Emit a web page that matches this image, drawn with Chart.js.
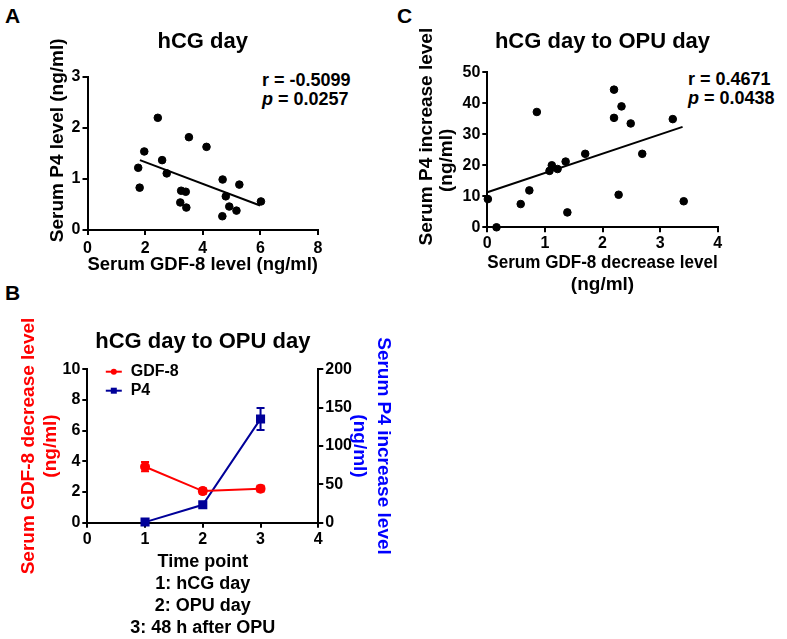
<!DOCTYPE html>
<html lang="en">
<head>
    <meta charset="UTF-8">
    <title>GDF-8 and P4</title>
    <script src="https://cdn.jsdelivr.net/npm/chart.js@4.4.0/dist/chart.umd.min.js"></script>
    <style>
        body { margin: 0; background: #fff; width: 787px; height: 639px; position: relative; overflow: hidden;
               font-family: 'Liberation Sans', Arial, sans-serif; font-weight: bold; }
        canvas, .txt { position: absolute; }
        .letter { font-size: 21px; line-height: 21px; }
        .stats { font-size: 18px; line-height: 19px; white-space: nowrap; }
    </style>
</head>
<body>
<div class="txt letter" style="left:5px; top:5px;">A</div>
<div class="txt letter" style="left:5px; top:282px;">B</div>
<div class="txt letter" style="left:397px; top:5px;">C</div>
<div class="txt stats" style="left:262px; top:71px;">r = -0.5099<br><i>p</i> = 0.0257</div>
<div class="txt stats" style="left:688px; top:70px;">r = 0.4671<br><i>p</i> = 0.0438</div>

<canvas id="chartA" width="400" height="290" style="left:0; top:0;"></canvas>
<canvas id="chartB" width="400" height="339" style="left:0; top:300px;"></canvas>
<canvas id="chartC" width="387" height="300" style="left:400px; top:0;"></canvas>

<script>
    // panel A: hCG day
    const aGdf8 = [1.76, 1.81, 1.97, 2.44, 2.59, 2.75, 3.25, 3.41, 3.22, 3.43, 3.52, 4.13, 4.69, 5.27, 4.80, 4.68, 4.92, 5.17, 6.02];
    const aP4   = [1.22, 0.83, 1.54, 2.20, 1.37, 1.11, 0.77, 0.75, 0.54, 0.44, 1.82, 1.63, 0.99, 0.89, 0.66, 0.27, 0.46, 0.38, 0.56];
    const aFitX = [1.82, 5.99];
    const aFitY = [1.37, 0.48];

    // panel C: hCG day to OPU day (changes)
    const cGdf8 = [0.01, 0.16, 0.58, 0.73, 0.86, 1.08, 1.12, 1.22, 1.36, 1.39, 1.70, 2.20, 2.20, 2.33, 2.28, 2.49, 2.69, 3.22, 3.41];
    const cP4   = [9.1, 0, 7.5, 11.9, 37.2, 18.2, 20.0, 18.8, 21.2, 4.8, 23.7, 44.4, 35.3, 39.0, 10.5, 33.5, 23.7, 34.9, 8.4];
    const cFitX = [0, 3.39];
    const cFitY = [11.3, 32.4];

    // panel B: time course, mean and error
    const timePoints = [1, 2, 3];
    const gdfMean = [3.65, 2.06, 2.22];
    const gdfErr  = [0.30, 0.18, 0.19];
    const p4Mean  = [0.8, 23.3, 135.3];
    const p4Err   = [1.5, 3.3, 14.4];

    const FONT = "'Liberation Sans', Arial, sans-serif";
    Chart.defaults.font.family = FONT;
    Chart.defaults.font.weight = 'bold';
    Chart.defaults.color = '#000';

    const pts = (xs, ys) => xs.map((x, i) => ({ x: x, y: ys[i] }));

    function axis(min, max, step, extra, tickPad) {
        return Object.assign({
            type: 'linear', min: min, max: max,
            ticks: { stepSize: step, padding: tickPad || 2, font: { size: 16, weight: 'bold' }, color: '#000' },
            grid: { drawOnChartArea: false, drawTicks: true, tickLength: 5, color: '#000', lineWidth: 2 },
            border: { color: '#000', width: 2 }
        }, extra);
    }

    function axisTitle(text, size, lh, pad, color) {
        return { display: true, text: text, color: color || '#000', padding: pad,
                 font: { size: size, weight: 'bold', lineHeight: lh } };
    }

    function mainTitle(text, top, bottom) {
        return { display: true, text: text, fullSize: false, color: '#000',
                 font: { size: 22, weight: 'bold', lineHeight: 1.2 }, padding: { top: top, bottom: bottom } };
    }

    // error bars for datasets that carry an `errors` array
    const errorBars = {
        id: 'errorBars',
        afterDatasetsDraw(chart) {
            const ctx = chart.ctx;
            chart.data.datasets.forEach((ds, i) => {
                if (!ds.errors) return;
                const meta = chart.getDatasetMeta(i);
                const scale = chart.scales[meta.yAxisID];
                ctx.save();
                ctx.strokeStyle = ds.borderColor;
                ctx.lineWidth = 2;
                meta.data.forEach((el, j) => {
                    const v = ds.data[j].y, e = ds.errors[j];
                    const y1 = scale.getPixelForValue(v + e), y2 = scale.getPixelForValue(v - e);
                    ctx.beginPath();
                    ctx.moveTo(el.x, y1); ctx.lineTo(el.x, y2);
                    ctx.moveTo(el.x - 4, y1); ctx.lineTo(el.x + 4, y1);
                    ctx.moveTo(el.x - 4, y2); ctx.lineTo(el.x + 4, y2);
                    ctx.stroke();
                });
                ctx.restore();
            });
        }
    };

    // legend drawn inside the plot area, line + marker style
    const innerLegend = {
        id: 'innerLegend',
        afterDraw(chart) {
            const ctx = chart.ctx, area = chart.chartArea;
            ctx.save();
            chart.data.datasets.forEach((ds, i) => {
                const y = area.top + 2.4 + i * 19;
                const x0 = area.left + 18.5, x1 = area.left + 34.5, xm = (x0 + x1) / 2;
                ctx.strokeStyle = ds.borderColor;
                ctx.fillStyle = ds.borderColor;
                ctx.lineWidth = 2;
                ctx.beginPath(); ctx.moveTo(x0, y); ctx.lineTo(x1, y); ctx.stroke();
                if (ds.pointStyle === 'rect') {
                    ctx.fillRect(xm - 3, y - 3, 6, 6);
                } else {
                    ctx.beginPath(); ctx.arc(xm, y, 3, 0, Math.PI * 2); ctx.fill();
                }
                ctx.fillStyle = '#000';
                ctx.font = 'bold 16px ' + FONT;
                ctx.textBaseline = 'middle';
                ctx.fillText(ds.label, area.left + 43.4, y);
            });
            ctx.restore();
        }
    };

    function scatterOpts(title, titlePad, xTitle, yTitle, xs, ys) {
        return {
            responsive: false, animation: false,
            layout: { padding: { left: 0, right: xs.padRight, top: 0, bottom: 0 } },
            plugins: { legend: { display: false }, tooltip: { enabled: false }, title: mainTitle(title, titlePad[0], titlePad[1]) },
            scales: {
                x: axis(xs.min, xs.max, xs.step, { title: xTitle, afterFit: s => { s.height = xs.height; } }, xs.tickPad),
                y: axis(ys.min, ys.max, ys.step, { title: yTitle, afterFit: s => { s.width = ys.width; } })
            }
        };
    }

    // the y titles sit a little above the plot centre in the original, leading spaces nudge them up
    new Chart(document.getElementById('chartA'), {
        type: 'scatter',
        data: {
            datasets: [
                { data: pts(aGdf8, aP4), backgroundColor: '#000', borderColor: '#000', pointRadius: 3.8, clip: false },
                { type: 'line', data: pts(aFitX, aFitY), borderColor: '#000', borderWidth: 2, pointRadius: 0, fill: false }
            ]
        },
        options: scatterOpts('hCG day', [28.8, 21.8],
            axisTitle('Serum GDF-8 level (ng/ml)', 19, 1.2, { top: 0, bottom: 13.6 }),
            axisTitle('     Serum P4 level (ng/ml)', 19, 1.2, { top: 46, bottom: 0 }),
            { min: 0, max: 8, step: 2, height: 60, padRight: 82, tickPad: 4 },
            { min: 0, max: 3, step: 1, width: 87.5 })
    });

    new Chart(document.getElementById('chartC'), {
        type: 'scatter',
        data: {
            datasets: [
                { data: pts(cGdf8, cP4), backgroundColor: '#000', borderColor: '#000', pointRadius: 3.8, clip: false },
                { type: 'line', data: pts(cFitX, cFitY), borderColor: '#000', borderWidth: 2, pointRadius: 0, fill: false }
            ]
        },
        options: scatterOpts('hCG day to OPU day', [28.8, 17.1],
            axisTitle(['Serum GDF-8 decrease level', '(ng/ml)'], 19, 22 / 19, { top: 0, bottom: 4 }),
            axisTitle(['     Serum P4 increase level', '(ng/ml)    '], 19, 20 / 19, { top: 17, bottom: 0 }),
            { min: 0, max: 4, step: 1, height: 72.7, padRight: 69.3 },
            { min: 0, max: 50, step: 10, width: 87.3 })
    });

    new Chart(document.getElementById('chartB'), {
        type: 'scatter',
        data: {
            datasets: [
                { label: 'GDF-8', data: pts(timePoints, gdfMean), errors: gdfErr, yAxisID: 'y', showLine: true,
                  borderColor: '#ff0000', backgroundColor: '#ff0000', borderWidth: 2, pointRadius: 4, pointStyle: 'circle', clip: false },
                { label: 'P4', data: pts(timePoints, p4Mean), errors: p4Err, yAxisID: 'y1', showLine: true,
                  borderColor: '#000099', backgroundColor: '#000099', borderWidth: 2, pointRadius: 5, pointStyle: 'rect', clip: false }
            ]
        },
        options: {
            responsive: false, animation: false,
            layout: { padding: 0 },
            plugins: { legend: { display: false }, tooltip: { enabled: false }, title: mainTitle('hCG day to OPU day', 28.8, 14.1) },
            scales: {
                x: axis(0, 4, 1, {
                    title: axisTitle(['Time point', '1: hCG day', '2: OPU day', '3: 48 h after OPU'], 18, 22 / 18, { top: 0, bottom: 0 }),
                    afterFit: s => { s.height = 116.3; }
                }),
                y: axis(0, 10, 2, {
                    position: 'left',
                    title: axisTitle(['Serum GDF-8 decrease level', '(ng/ml)'], 19, 22.5 / 19, { top: 17.2, bottom: 0 }, '#ff0000'),
                    afterFit: s => { s.width = 87.3; }
                }),
                y1: axis(0, 200, 50, {
                    position: 'right',
                    title: axisTitle(['Serum P4 increase level', '(ng/ml)'], 19, 24 / 19, { top: 5.1, bottom: 0 }, '#0000ff'),
                    afterFit: s => { s.width = 81.7; }
                })
            }
        },
        plugins: [errorBars, innerLegend]
    });
</script>
</body>
</html>
